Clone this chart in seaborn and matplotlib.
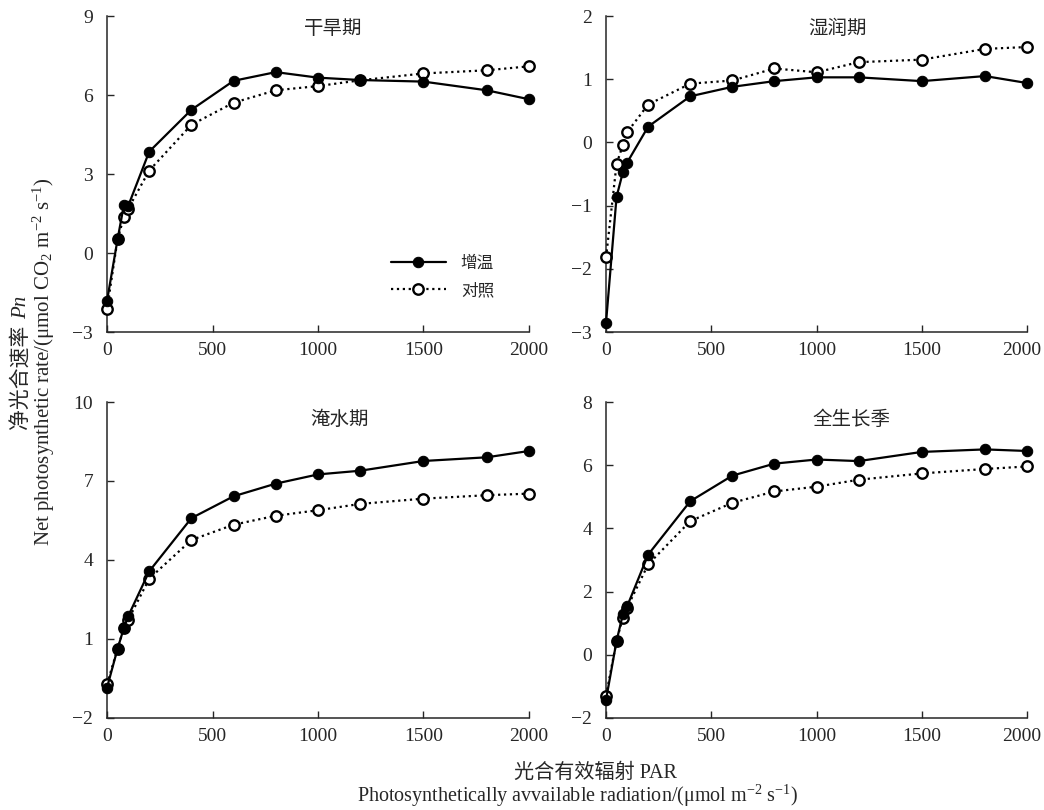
import matplotlib
matplotlib.use("Agg")
import matplotlib.pyplot as plt
import matplotlib.transforms as mtrans
import seaborn as sns
import pandas as pd

# PAR levels (umol m-2 s-1)
par = [0, 50, 80, 100, 200, 400, 600, 800, 1000, 1200, 1500, 1800, 2000]

# net photosynthetic rate, warming vs control
dry_warm = [-1.82, 0.52, 1.82, 1.78, 3.85, 5.44, 6.54, 6.87, 6.66, 6.57, 6.51, 6.18, 5.84]
dry_ctrl = [-2.13, 0.52, 1.37, 1.68, 3.13, 4.87, 5.71, 6.18, 6.34, 6.56, 6.82, 6.94, 7.09]
wet_warm = [-2.85, -0.86, -0.47, -0.32, 0.25, 0.73, 0.88, 0.97, 1.03, 1.03, 0.97, 1.05, 0.94]
wet_ctrl = [-1.82, -0.34, -0.04, 0.16, 0.60, 0.93, 0.98, 1.17, 1.11, 1.27, 1.31, 1.48, 1.51]
flood_warm = [-0.85, 0.63, 1.42, 1.86, 3.57, 5.59, 6.42, 6.90, 7.25, 7.39, 7.76, 7.90, 8.14]
flood_ctrl = [-0.72, 0.63, 1.42, 1.72, 3.29, 4.76, 5.34, 5.68, 5.89, 6.13, 6.33, 6.46, 6.52]
all_warm = [-1.42, 0.44, 1.28, 1.53, 3.17, 4.86, 5.67, 6.05, 6.18, 6.13, 6.42, 6.50, 6.45]
all_ctrl = [-1.29, 0.44, 1.18, 1.49, 2.86, 4.23, 4.81, 5.17, 5.32, 5.54, 5.74, 5.88, 5.96]

titles = ["干旱期", "湿润期", "淹水期", "全生长季"]
yticks = [[-3, 0, 3, 6, 9], [-3, -2, -1, 0, 1, 2], [-2, 1, 4, 7, 10], [-2, 0, 2, 4, 6, 8]]
title_x = [0.535, 0.549, 0.552, 0.584]

sns.set_style("ticks")
plt.rcParams["font.family"] = ["Liberation Serif", "Noto Sans CJK SC"]
plt.rcParams["mathtext.fontset"] = "custom"
plt.rcParams["mathtext.rm"] = "Liberation Serif"
plt.rcParams["mathtext.it"] = "Liberation Serif:italic"

W, H = 1044, 810
fig = plt.figure(figsize=(W / 100, H / 100), dpi=100)
rects = [
    [0.1025, 0.5901, 0.4042, 0.3901],
    [0.5805, 0.5901, 0.4033, 0.3901],
    [0.1025, 0.1136, 0.4042, 0.3901],
    [0.5805, 0.1136, 0.4033, 0.3901],
]
series = [(dry_warm, dry_ctrl), (wet_warm, wet_ctrl),
          (flood_warm, flood_ctrl), (all_warm, all_ctrl)]

for i, (warm, ctrl) in enumerate(series):
    ax = fig.add_axes(rects[i])
    df = pd.DataFrame({"PAR": par, "warm": warm, "ctrl": ctrl})
    # control first so the warming markers sit on top
    sns.lineplot(data=df, x="PAR", y="ctrl", ax=ax, color="black",
                 linestyle=":", linewidth=1.6, marker="o", markersize=7.5,
                 markerfacecolor="white", markeredgecolor="black",
                 markeredgewidth=1.7, label="对照", errorbar=None, zorder=3)
    sns.lineplot(data=df, x="PAR", y="warm", ax=ax, color="black",
                 linestyle="-", linewidth=1.6, marker="o", markersize=7.5,
                 markerfacecolor="black", markeredgecolor="black",
                 label="增温", errorbar=None, zorder=4)
    ax.set_xlim(0, 2000)
    ax.set_ylim(yticks[i][0], yticks[i][-1])
    ax.set_xticks([0, 500, 1000, 1500, 2000])
    ax.set_yticks(yticks[i])
    ax.tick_params(direction="in", length=5, width=1, labelsize=14)
    ax.tick_params(axis="x", pad=7)
    ax.tick_params(axis="y", pad=10)
    for s in ["left", "bottom"]:
        ax.spines[s].set_linewidth(1.1)
    sns.despine(ax=ax)
    ax.set_xlabel("")
    ax.set_ylabel("")
    for ln in ax.lines:
        ln.set_clip_on(False)
    if i % 2 == 1:
        # keep the last "2000" inside the figure edge
        lab = ax.get_xticklabels()[-1]
        lab.set_transform(lab.get_transform() +
                          mtrans.ScaledTranslation(-4 / 72, 0, fig.dpi_scale_trans))
    ax.text(title_x[i], 0.958 if i < 2 else 0.945, titles[i], transform=ax.transAxes,
            ha="center", va="center", fontsize=14)
    if i == 0:
        h, l = ax.get_legend_handles_labels()
        ax.legend(h[::-1], l[::-1], frameon=False, fontsize=12, loc="upper left",
                  bbox_to_anchor=(0.637, 0.29), handlelength=3.3,
                  handletextpad=0.9, labelspacing=0.7)
    else:
        ax.get_legend().remove()

# y label: Chinese line with italic Pn, then English line
t1 = fig.text(0.021, 0, "净光合速率", rotation=90, ha="center", va="bottom", fontsize=15)
t2 = fig.text(0.021, 0, "Pn", rotation=90, ha="center", va="bottom", fontsize=15,
              style="italic")
fig.canvas.draw()
r = fig.canvas.get_renderer()
h1 = t1.get_window_extent(r).height
h2 = t2.get_window_extent(r).height
gap = 6
y0 = 0.553 * H - (h1 + gap + h2) / 2
t1.set_y(y0 / H)
t2.set_y((y0 + h1 + gap) / H)

fig.text(0.042, 0.553, "Net photosynthetic rate/(μmol CO$_2$ m$^{-2}$ s$^{-1}$)",
         rotation=90, ha="center", va="center", fontsize=15)

fig.text(0.570, 0.045, "光合有效辐射 PAR", ha="center", va="center", fontsize=14.5)
fig.text(0.553, 0.018, "Photosynthetically avvailable radiation/(μmol m$^{-2}$ s$^{-1}$)",
         ha="center", va="center", fontsize=14.5)

fig.savefig("out.png", dpi=100, facecolor="white")
